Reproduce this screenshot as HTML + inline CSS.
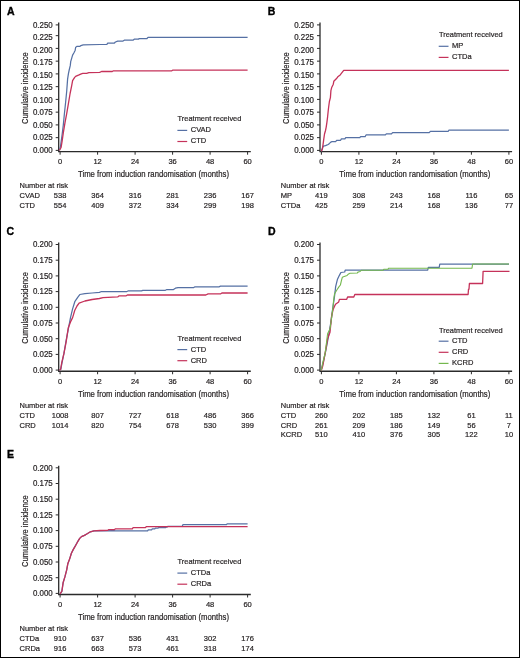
<!DOCTYPE html>
<html><head><meta charset="utf-8"><title>Cumulative incidence</title>
<style>
html,body{margin:0;padding:0;background:#fff;}
body{width:520px;height:658px;overflow:hidden;}
svg{display:block;will-change:transform;}
svg text{font-family:"Liberation Sans", sans-serif;fill:#231f20;stroke:#231f20;stroke-width:0.2px;}
</style></head>
<body>
<svg width="520" height="658" viewBox="0 0 520 658">
<rect x="0" y="0" width="520" height="658" fill="#fff"/>
<rect x="0.5" y="0.5" width="519" height="657" fill="none" stroke="#000" stroke-width="1"/>
<text x="7" y="14.6" font-size="10.5" font-weight="bold" style="fill:#000;stroke:#000;stroke-width:0.35px">A</text>
<path d="M58.7 22.6V151.7H250.8" fill="none" stroke="#2b2b2b" stroke-width="1.3"/>
<path d="M55.7 24.9H58.7" stroke="#2b2b2b" stroke-width="1"/>
<text x="52.7" y="27.85" font-size="8.2" text-anchor="end" textLength="19.8" lengthAdjust="spacingAndGlyphs">0.250</text>
<path d="M55.7 35.65H58.7" stroke="#2b2b2b" stroke-width="1"/>
<text x="52.7" y="40.36" font-size="8.2" text-anchor="end" textLength="19.8" lengthAdjust="spacingAndGlyphs">0.225</text>
<path d="M55.7 48.4H58.7" stroke="#2b2b2b" stroke-width="1"/>
<text x="52.7" y="52.87" font-size="8.2" text-anchor="end" textLength="19.8" lengthAdjust="spacingAndGlyphs">0.200</text>
<path d="M55.7 61.15H58.7" stroke="#2b2b2b" stroke-width="1"/>
<text x="52.7" y="65.38" font-size="8.2" text-anchor="end" textLength="19.8" lengthAdjust="spacingAndGlyphs">0.175</text>
<path d="M55.7 73.9H58.7" stroke="#2b2b2b" stroke-width="1"/>
<text x="52.7" y="77.89" font-size="8.2" text-anchor="end" textLength="19.8" lengthAdjust="spacingAndGlyphs">0.150</text>
<path d="M55.7 86.65H58.7" stroke="#2b2b2b" stroke-width="1"/>
<text x="52.7" y="90.4" font-size="8.2" text-anchor="end" textLength="19.8" lengthAdjust="spacingAndGlyphs">0.125</text>
<path d="M55.7 99.4H58.7" stroke="#2b2b2b" stroke-width="1"/>
<text x="52.7" y="102.91" font-size="8.2" text-anchor="end" textLength="19.8" lengthAdjust="spacingAndGlyphs">0.100</text>
<path d="M55.7 112.15H58.7" stroke="#2b2b2b" stroke-width="1"/>
<text x="52.7" y="115.42" font-size="8.2" text-anchor="end" textLength="19.8" lengthAdjust="spacingAndGlyphs">0.075</text>
<path d="M55.7 124.9H58.7" stroke="#2b2b2b" stroke-width="1"/>
<text x="52.7" y="127.93" font-size="8.2" text-anchor="end" textLength="19.8" lengthAdjust="spacingAndGlyphs">0.050</text>
<path d="M55.7 137.65H58.7" stroke="#2b2b2b" stroke-width="1"/>
<text x="52.7" y="140.44" font-size="8.2" text-anchor="end" textLength="19.8" lengthAdjust="spacingAndGlyphs">0.025</text>
<path d="M55.7 150.4H58.7" stroke="#2b2b2b" stroke-width="1"/>
<text x="52.7" y="152.95" font-size="8.2" text-anchor="end" textLength="19.8" lengthAdjust="spacingAndGlyphs">0.000</text>
<path d="M60.1 151.7v3" stroke="#2b2b2b" stroke-width="1"/>
<text x="60.1" y="164.4" font-size="8.1" text-anchor="middle" textLength="4.19" lengthAdjust="spacingAndGlyphs">0</text>
<path d="M97.6 151.7v3" stroke="#2b2b2b" stroke-width="1"/>
<text x="97.6" y="164.4" font-size="8.1" text-anchor="middle" textLength="8.38" lengthAdjust="spacingAndGlyphs">12</text>
<path d="M135.1 151.7v3" stroke="#2b2b2b" stroke-width="1"/>
<text x="135.1" y="164.4" font-size="8.1" text-anchor="middle" textLength="8.38" lengthAdjust="spacingAndGlyphs">24</text>
<path d="M172.6 151.7v3" stroke="#2b2b2b" stroke-width="1"/>
<text x="172.6" y="164.4" font-size="8.1" text-anchor="middle" textLength="8.38" lengthAdjust="spacingAndGlyphs">36</text>
<path d="M210.1 151.7v3" stroke="#2b2b2b" stroke-width="1"/>
<text x="210.1" y="164.4" font-size="8.1" text-anchor="middle" textLength="8.38" lengthAdjust="spacingAndGlyphs">48</text>
<path d="M247.6 151.7v3" stroke="#2b2b2b" stroke-width="1"/>
<text x="247.6" y="164.4" font-size="8.1" text-anchor="middle" textLength="8.38" lengthAdjust="spacingAndGlyphs">60</text>
<text x="78" y="177.4" font-size="8.8" textLength="151" lengthAdjust="spacingAndGlyphs">Time from induction randomisation (months)</text>
<text transform="translate(27.9 88.15) rotate(-90)" x="0" y="0" font-size="8.8" text-anchor="middle" textLength="71.5" lengthAdjust="spacingAndGlyphs">Cumulative incidence</text>
<text x="177.6" y="121.1" font-size="8.1" textLength="63.8" lengthAdjust="spacingAndGlyphs">Treatment received</text>
<path d="M177.4 130.4H187.2" stroke="#5570a4" stroke-width="1.2"/>
<text x="190.7" y="132.3" font-size="8.1" textLength="20.37" lengthAdjust="spacingAndGlyphs">CVAD</text>
<path d="M177.4 141.5H187.2" stroke="#c5325a" stroke-width="1.2"/>
<text x="190.7" y="143.4" font-size="8.1" textLength="15.48" lengthAdjust="spacingAndGlyphs">CTD</text>
<text x="19.5" y="188" font-size="8.1" textLength="48.5" lengthAdjust="spacingAndGlyphs">Number at risk</text>
<text x="19.5" y="198.3" font-size="8.1" textLength="20.37" lengthAdjust="spacingAndGlyphs">CVAD</text>
<text x="60.1" y="198.3" font-size="8.1" text-anchor="middle" textLength="12.57" lengthAdjust="spacingAndGlyphs">538</text>
<text x="97.6" y="198.3" font-size="8.1" text-anchor="middle" textLength="12.57" lengthAdjust="spacingAndGlyphs">364</text>
<text x="135.1" y="198.3" font-size="8.1" text-anchor="middle" textLength="12.57" lengthAdjust="spacingAndGlyphs">316</text>
<text x="172.6" y="198.3" font-size="8.1" text-anchor="middle" textLength="12.57" lengthAdjust="spacingAndGlyphs">281</text>
<text x="210.1" y="198.3" font-size="8.1" text-anchor="middle" textLength="12.57" lengthAdjust="spacingAndGlyphs">236</text>
<text x="247.6" y="198.3" font-size="8.1" text-anchor="middle" textLength="12.57" lengthAdjust="spacingAndGlyphs">167</text>
<text x="19.5" y="208" font-size="8.1" textLength="15.48" lengthAdjust="spacingAndGlyphs">CTD</text>
<text x="60.1" y="208" font-size="8.1" text-anchor="middle" textLength="12.57" lengthAdjust="spacingAndGlyphs">554</text>
<text x="97.6" y="208" font-size="8.1" text-anchor="middle" textLength="12.57" lengthAdjust="spacingAndGlyphs">409</text>
<text x="135.1" y="208" font-size="8.1" text-anchor="middle" textLength="12.57" lengthAdjust="spacingAndGlyphs">372</text>
<text x="172.6" y="208" font-size="8.1" text-anchor="middle" textLength="12.57" lengthAdjust="spacingAndGlyphs">334</text>
<text x="210.1" y="208" font-size="8.1" text-anchor="middle" textLength="12.57" lengthAdjust="spacingAndGlyphs">299</text>
<text x="247.6" y="208" font-size="8.1" text-anchor="middle" textLength="12.57" lengthAdjust="spacingAndGlyphs">198</text>
<polyline points="59.4,150.4 60.5,146.4 62.2,134 63.3,125 64.4,113.7 65.6,102.5 66.7,91.2 67.6,79.1 68.4,73.8 69.2,70 70.3,65.4 70.7,61.6 71.8,57.8 72.6,55.1 74.1,52.5 75.2,50.2 75.6,47.5 76.8,46.4 79.8,46.4 80.9,45.6 83.2,44.9 100,44.5 106.9,44.3 107.7,43.2 114.2,43.2 115.4,42 117.7,41.1 123,41.1 124.3,40.2 133,40.2 134.2,39.2 138.5,39.2 139.2,38.5 147,38.5 148,37.4 247.6,37.4" fill="none" stroke="#5570a4" stroke-width="1.25" stroke-linejoin="round"/>
<polyline points="59.4,150.4 61.1,147.5 62.2,140.7 63.3,132.9 65,122.7 66.7,113.7 68.4,103.6 70.1,93.5 71.7,85.6 72.6,80.6 74.5,77.6 75.6,76.4 79,74.9 81.3,73.8 82.8,73.4 86.6,73.4 88.9,72.6 99.7,72.3 101.5,71.5 112.3,71.5 113.5,70.8 171.8,70.8 172.6,70.2 247.6,70.2" fill="none" stroke="#c5325a" stroke-width="1.3" stroke-linejoin="round"/>
<text x="267.7" y="15.2" font-size="10.5" font-weight="bold" style="fill:#000;stroke:#000;stroke-width:0.35px">B</text>
<path d="M320 22.6V151.7H512.1" fill="none" stroke="#2b2b2b" stroke-width="1.3"/>
<path d="M317 24.9H320" stroke="#2b2b2b" stroke-width="1"/>
<text x="314" y="27.85" font-size="8.2" text-anchor="end" textLength="19.8" lengthAdjust="spacingAndGlyphs">0.250</text>
<path d="M317 35.65H320" stroke="#2b2b2b" stroke-width="1"/>
<text x="314" y="40.36" font-size="8.2" text-anchor="end" textLength="19.8" lengthAdjust="spacingAndGlyphs">0.225</text>
<path d="M317 48.4H320" stroke="#2b2b2b" stroke-width="1"/>
<text x="314" y="52.87" font-size="8.2" text-anchor="end" textLength="19.8" lengthAdjust="spacingAndGlyphs">0.200</text>
<path d="M317 61.15H320" stroke="#2b2b2b" stroke-width="1"/>
<text x="314" y="65.38" font-size="8.2" text-anchor="end" textLength="19.8" lengthAdjust="spacingAndGlyphs">0.175</text>
<path d="M317 73.9H320" stroke="#2b2b2b" stroke-width="1"/>
<text x="314" y="77.89" font-size="8.2" text-anchor="end" textLength="19.8" lengthAdjust="spacingAndGlyphs">0.150</text>
<path d="M317 86.65H320" stroke="#2b2b2b" stroke-width="1"/>
<text x="314" y="90.4" font-size="8.2" text-anchor="end" textLength="19.8" lengthAdjust="spacingAndGlyphs">0.125</text>
<path d="M317 99.4H320" stroke="#2b2b2b" stroke-width="1"/>
<text x="314" y="102.91" font-size="8.2" text-anchor="end" textLength="19.8" lengthAdjust="spacingAndGlyphs">0.100</text>
<path d="M317 112.15H320" stroke="#2b2b2b" stroke-width="1"/>
<text x="314" y="115.42" font-size="8.2" text-anchor="end" textLength="19.8" lengthAdjust="spacingAndGlyphs">0.075</text>
<path d="M317 124.9H320" stroke="#2b2b2b" stroke-width="1"/>
<text x="314" y="127.93" font-size="8.2" text-anchor="end" textLength="19.8" lengthAdjust="spacingAndGlyphs">0.050</text>
<path d="M317 137.65H320" stroke="#2b2b2b" stroke-width="1"/>
<text x="314" y="140.44" font-size="8.2" text-anchor="end" textLength="19.8" lengthAdjust="spacingAndGlyphs">0.025</text>
<path d="M317 150.4H320" stroke="#2b2b2b" stroke-width="1"/>
<text x="314" y="152.95" font-size="8.2" text-anchor="end" textLength="19.8" lengthAdjust="spacingAndGlyphs">0.000</text>
<path d="M321.4 151.7v3" stroke="#2b2b2b" stroke-width="1"/>
<text x="321.4" y="164.4" font-size="8.1" text-anchor="middle" textLength="4.19" lengthAdjust="spacingAndGlyphs">0</text>
<path d="M358.9 151.7v3" stroke="#2b2b2b" stroke-width="1"/>
<text x="358.9" y="164.4" font-size="8.1" text-anchor="middle" textLength="8.38" lengthAdjust="spacingAndGlyphs">12</text>
<path d="M396.4 151.7v3" stroke="#2b2b2b" stroke-width="1"/>
<text x="396.4" y="164.4" font-size="8.1" text-anchor="middle" textLength="8.38" lengthAdjust="spacingAndGlyphs">24</text>
<path d="M433.9 151.7v3" stroke="#2b2b2b" stroke-width="1"/>
<text x="433.9" y="164.4" font-size="8.1" text-anchor="middle" textLength="8.38" lengthAdjust="spacingAndGlyphs">36</text>
<path d="M471.4 151.7v3" stroke="#2b2b2b" stroke-width="1"/>
<text x="471.4" y="164.4" font-size="8.1" text-anchor="middle" textLength="8.38" lengthAdjust="spacingAndGlyphs">48</text>
<path d="M508.9 151.7v3" stroke="#2b2b2b" stroke-width="1"/>
<text x="508.9" y="164.4" font-size="8.1" text-anchor="middle" textLength="8.38" lengthAdjust="spacingAndGlyphs">60</text>
<text x="339.3" y="177.4" font-size="8.8" textLength="151" lengthAdjust="spacingAndGlyphs">Time from induction randomisation (months)</text>
<text transform="translate(289.2 88.15) rotate(-90)" x="0" y="0" font-size="8.8" text-anchor="middle" textLength="71.5" lengthAdjust="spacingAndGlyphs">Cumulative incidence</text>
<text x="438.9" y="37.1" font-size="8.1" textLength="63.8" lengthAdjust="spacingAndGlyphs">Treatment received</text>
<path d="M438.7 46.3H448.5" stroke="#5570a4" stroke-width="1.2"/>
<text x="452" y="48.2" font-size="8.1" textLength="11.3" lengthAdjust="spacingAndGlyphs">MP</text>
<path d="M438.7 57.4H448.5" stroke="#c5325a" stroke-width="1.2"/>
<text x="452" y="59.3" font-size="8.1" textLength="19.67" lengthAdjust="spacingAndGlyphs">CTDa</text>
<text x="280.8" y="188" font-size="8.1" textLength="48.5" lengthAdjust="spacingAndGlyphs">Number at risk</text>
<text x="280.8" y="198.3" font-size="8.1" textLength="11.3" lengthAdjust="spacingAndGlyphs">MP</text>
<text x="321.4" y="198.3" font-size="8.1" text-anchor="middle" textLength="12.57" lengthAdjust="spacingAndGlyphs">419</text>
<text x="358.9" y="198.3" font-size="8.1" text-anchor="middle" textLength="12.57" lengthAdjust="spacingAndGlyphs">308</text>
<text x="396.4" y="198.3" font-size="8.1" text-anchor="middle" textLength="12.57" lengthAdjust="spacingAndGlyphs">243</text>
<text x="433.9" y="198.3" font-size="8.1" text-anchor="middle" textLength="12.57" lengthAdjust="spacingAndGlyphs">168</text>
<text x="471.4" y="198.3" font-size="8.1" text-anchor="middle" textLength="12.01" lengthAdjust="spacingAndGlyphs">116</text>
<text x="508.9" y="198.3" font-size="8.1" text-anchor="middle" textLength="8.38" lengthAdjust="spacingAndGlyphs">65</text>
<text x="280.8" y="208" font-size="8.1" textLength="19.67" lengthAdjust="spacingAndGlyphs">CTDa</text>
<text x="321.4" y="208" font-size="8.1" text-anchor="middle" textLength="12.57" lengthAdjust="spacingAndGlyphs">425</text>
<text x="358.9" y="208" font-size="8.1" text-anchor="middle" textLength="12.57" lengthAdjust="spacingAndGlyphs">259</text>
<text x="396.4" y="208" font-size="8.1" text-anchor="middle" textLength="12.57" lengthAdjust="spacingAndGlyphs">214</text>
<text x="433.9" y="208" font-size="8.1" text-anchor="middle" textLength="12.57" lengthAdjust="spacingAndGlyphs">168</text>
<text x="471.4" y="208" font-size="8.1" text-anchor="middle" textLength="12.57" lengthAdjust="spacingAndGlyphs">136</text>
<text x="508.9" y="208" font-size="8.1" text-anchor="middle" textLength="8.38" lengthAdjust="spacingAndGlyphs">77</text>
<polyline points="321.4,151.2 322.6,147.5 323.8,145.8 325.2,145.8 326.7,145.1 328.1,144.5 329.5,143.4 330.5,142.4 332,141.5 335.8,141.5 336.6,140.3 340.6,140.3 341.4,138.9 344.9,138.9 345.7,137.7 359.8,137.7 360.6,136.7 365.1,136.7 365.9,135.2 366.2,134.9 385.4,134.9 386.3,133.9 391.5,133.9 392.6,132.6 429.2,132.6 430.4,131.3 448.3,131.3 449,130 508.9,130" fill="none" stroke="#5570a4" stroke-width="1.25" stroke-linejoin="round"/>
<polyline points="321.4,151.2 322.5,148.4 323.1,144.2 323.8,138.8 324.5,134 325.5,130.5 326.2,127.1 326.9,122.3 327.6,116.8 328.3,110 328.6,107.5 329.4,101.5 330.4,97.6 330.9,90.7 331.8,87.2 333.3,84.2 333.8,81.3 336.3,78.8 337.8,76.8 340.2,74.9 343.7,70.4 508.9,70.4" fill="none" stroke="#c5325a" stroke-width="1.3" stroke-linejoin="round"/>
<text x="6.6" y="234.8" font-size="10.5" font-weight="bold" style="fill:#000;stroke:#000;stroke-width:0.35px">C</text>
<path d="M58.7 242.6V371.25H250.8" fill="none" stroke="#2b2b2b" stroke-width="1.3"/>
<path d="M55.7 244.5H58.7" stroke="#2b2b2b" stroke-width="1"/>
<text x="52.7" y="247.3" font-size="8.2" text-anchor="end" textLength="19.8" lengthAdjust="spacingAndGlyphs">0.200</text>
<path d="M55.7 260.2H58.7" stroke="#2b2b2b" stroke-width="1"/>
<text x="52.7" y="263" font-size="8.2" text-anchor="end" textLength="19.8" lengthAdjust="spacingAndGlyphs">0.175</text>
<path d="M55.7 275.9H58.7" stroke="#2b2b2b" stroke-width="1"/>
<text x="52.7" y="278.7" font-size="8.2" text-anchor="end" textLength="19.8" lengthAdjust="spacingAndGlyphs">0.150</text>
<path d="M55.7 291.6H58.7" stroke="#2b2b2b" stroke-width="1"/>
<text x="52.7" y="294.4" font-size="8.2" text-anchor="end" textLength="19.8" lengthAdjust="spacingAndGlyphs">0.125</text>
<path d="M55.7 307.3H58.7" stroke="#2b2b2b" stroke-width="1"/>
<text x="52.7" y="310.1" font-size="8.2" text-anchor="end" textLength="19.8" lengthAdjust="spacingAndGlyphs">0.100</text>
<path d="M55.7 323H58.7" stroke="#2b2b2b" stroke-width="1"/>
<text x="52.7" y="325.8" font-size="8.2" text-anchor="end" textLength="19.8" lengthAdjust="spacingAndGlyphs">0.075</text>
<path d="M55.7 338.7H58.7" stroke="#2b2b2b" stroke-width="1"/>
<text x="52.7" y="341.5" font-size="8.2" text-anchor="end" textLength="19.8" lengthAdjust="spacingAndGlyphs">0.050</text>
<path d="M55.7 354.4H58.7" stroke="#2b2b2b" stroke-width="1"/>
<text x="52.7" y="357.2" font-size="8.2" text-anchor="end" textLength="19.8" lengthAdjust="spacingAndGlyphs">0.025</text>
<path d="M55.7 370.1H58.7" stroke="#2b2b2b" stroke-width="1"/>
<text x="52.7" y="372.9" font-size="8.2" text-anchor="end" textLength="19.8" lengthAdjust="spacingAndGlyphs">0.000</text>
<path d="M60.1 371.25v3" stroke="#2b2b2b" stroke-width="1"/>
<text x="60.1" y="383.95" font-size="8.1" text-anchor="middle" textLength="4.19" lengthAdjust="spacingAndGlyphs">0</text>
<path d="M97.6 371.25v3" stroke="#2b2b2b" stroke-width="1"/>
<text x="97.6" y="383.95" font-size="8.1" text-anchor="middle" textLength="8.38" lengthAdjust="spacingAndGlyphs">12</text>
<path d="M135.1 371.25v3" stroke="#2b2b2b" stroke-width="1"/>
<text x="135.1" y="383.95" font-size="8.1" text-anchor="middle" textLength="8.38" lengthAdjust="spacingAndGlyphs">24</text>
<path d="M172.6 371.25v3" stroke="#2b2b2b" stroke-width="1"/>
<text x="172.6" y="383.95" font-size="8.1" text-anchor="middle" textLength="8.38" lengthAdjust="spacingAndGlyphs">36</text>
<path d="M210.1 371.25v3" stroke="#2b2b2b" stroke-width="1"/>
<text x="210.1" y="383.95" font-size="8.1" text-anchor="middle" textLength="8.38" lengthAdjust="spacingAndGlyphs">48</text>
<path d="M247.6 371.25v3" stroke="#2b2b2b" stroke-width="1"/>
<text x="247.6" y="383.95" font-size="8.1" text-anchor="middle" textLength="8.38" lengthAdjust="spacingAndGlyphs">60</text>
<text x="78" y="396.95" font-size="8.8" textLength="151" lengthAdjust="spacingAndGlyphs">Time from induction randomisation (months)</text>
<text transform="translate(27.9 307.93) rotate(-90)" x="0" y="0" font-size="8.8" text-anchor="middle" textLength="71.5" lengthAdjust="spacingAndGlyphs">Cumulative incidence</text>
<text x="177.6" y="340.7" font-size="8.1" textLength="63.8" lengthAdjust="spacingAndGlyphs">Treatment received</text>
<path d="M177.4 349.6H187.2" stroke="#5570a4" stroke-width="1.2"/>
<text x="190.7" y="351.5" font-size="8.1" textLength="15.48" lengthAdjust="spacingAndGlyphs">CTD</text>
<path d="M177.4 360.7H187.2" stroke="#c5325a" stroke-width="1.2"/>
<text x="190.7" y="362.6" font-size="8.1" textLength="16.32" lengthAdjust="spacingAndGlyphs">CRD</text>
<text x="19.5" y="407.55" font-size="8.1" textLength="48.5" lengthAdjust="spacingAndGlyphs">Number at risk</text>
<text x="19.5" y="417.85" font-size="8.1" textLength="15.48" lengthAdjust="spacingAndGlyphs">CTD</text>
<text x="60.1" y="417.85" font-size="8.1" text-anchor="middle" textLength="16.76" lengthAdjust="spacingAndGlyphs">1008</text>
<text x="97.6" y="417.85" font-size="8.1" text-anchor="middle" textLength="12.57" lengthAdjust="spacingAndGlyphs">807</text>
<text x="135.1" y="417.85" font-size="8.1" text-anchor="middle" textLength="12.57" lengthAdjust="spacingAndGlyphs">727</text>
<text x="172.6" y="417.85" font-size="8.1" text-anchor="middle" textLength="12.57" lengthAdjust="spacingAndGlyphs">618</text>
<text x="210.1" y="417.85" font-size="8.1" text-anchor="middle" textLength="12.57" lengthAdjust="spacingAndGlyphs">486</text>
<text x="247.6" y="417.85" font-size="8.1" text-anchor="middle" textLength="12.57" lengthAdjust="spacingAndGlyphs">366</text>
<text x="19.5" y="427.55" font-size="8.1" textLength="16.32" lengthAdjust="spacingAndGlyphs">CRD</text>
<text x="60.1" y="427.55" font-size="8.1" text-anchor="middle" textLength="16.76" lengthAdjust="spacingAndGlyphs">1014</text>
<text x="97.6" y="427.55" font-size="8.1" text-anchor="middle" textLength="12.57" lengthAdjust="spacingAndGlyphs">820</text>
<text x="135.1" y="427.55" font-size="8.1" text-anchor="middle" textLength="12.57" lengthAdjust="spacingAndGlyphs">754</text>
<text x="172.6" y="427.55" font-size="8.1" text-anchor="middle" textLength="12.57" lengthAdjust="spacingAndGlyphs">678</text>
<text x="210.1" y="427.55" font-size="8.1" text-anchor="middle" textLength="12.57" lengthAdjust="spacingAndGlyphs">530</text>
<text x="247.6" y="427.55" font-size="8.1" text-anchor="middle" textLength="12.57" lengthAdjust="spacingAndGlyphs">399</text>
<polyline points="59.4,370.2 60.8,369.3 61.8,363.8 63.9,353.7 66.1,340.7 68.3,329.1 70.5,317.6 72.6,308.9 74.8,301.7 77.7,297.3 79.8,294.5 84.9,293.7 92.1,293 99.4,292.3 101.5,291.5 126.9,291.5 128.5,290.8 141.5,290.8 142.8,290.3 165.4,290.3 166.9,289.5 173.5,289.5 175.4,288.2 178.1,287.6 193.8,287.6 195,286.8 219.3,286.8 220.4,286.1 247.6,286.1" fill="none" stroke="#5570a4" stroke-width="1.25" stroke-linejoin="round"/>
<polyline points="59.4,370.2 60.6,369.4 61.8,362.4 63.9,353.7 66.1,342.1 68.3,327.7 70.5,321.9 72.6,317.6 74.8,310.3 77,306 79.1,303.1 84.9,301 92.1,299.5 99.4,298.5 103,297.7 117.7,296.9 119.2,295.8 126.2,295.8 127.4,295 205.8,295 208.1,293.8 220.8,293.8 221.9,293 247.6,293" fill="none" stroke="#c5325a" stroke-width="1.3" stroke-linejoin="round"/>
<text x="268" y="234.8" font-size="10.5" font-weight="bold" style="fill:#000;stroke:#000;stroke-width:0.35px">D</text>
<path d="M320 242.6V371.25H512.1" fill="none" stroke="#2b2b2b" stroke-width="1.3"/>
<path d="M317 244.5H320" stroke="#2b2b2b" stroke-width="1"/>
<text x="314" y="247.3" font-size="8.2" text-anchor="end" textLength="19.8" lengthAdjust="spacingAndGlyphs">0.200</text>
<path d="M317 260.2H320" stroke="#2b2b2b" stroke-width="1"/>
<text x="314" y="263" font-size="8.2" text-anchor="end" textLength="19.8" lengthAdjust="spacingAndGlyphs">0.175</text>
<path d="M317 275.9H320" stroke="#2b2b2b" stroke-width="1"/>
<text x="314" y="278.7" font-size="8.2" text-anchor="end" textLength="19.8" lengthAdjust="spacingAndGlyphs">0.150</text>
<path d="M317 291.6H320" stroke="#2b2b2b" stroke-width="1"/>
<text x="314" y="294.4" font-size="8.2" text-anchor="end" textLength="19.8" lengthAdjust="spacingAndGlyphs">0.125</text>
<path d="M317 307.3H320" stroke="#2b2b2b" stroke-width="1"/>
<text x="314" y="310.1" font-size="8.2" text-anchor="end" textLength="19.8" lengthAdjust="spacingAndGlyphs">0.100</text>
<path d="M317 323H320" stroke="#2b2b2b" stroke-width="1"/>
<text x="314" y="325.8" font-size="8.2" text-anchor="end" textLength="19.8" lengthAdjust="spacingAndGlyphs">0.075</text>
<path d="M317 338.7H320" stroke="#2b2b2b" stroke-width="1"/>
<text x="314" y="341.5" font-size="8.2" text-anchor="end" textLength="19.8" lengthAdjust="spacingAndGlyphs">0.050</text>
<path d="M317 354.4H320" stroke="#2b2b2b" stroke-width="1"/>
<text x="314" y="357.2" font-size="8.2" text-anchor="end" textLength="19.8" lengthAdjust="spacingAndGlyphs">0.025</text>
<path d="M317 370.1H320" stroke="#2b2b2b" stroke-width="1"/>
<text x="314" y="372.9" font-size="8.2" text-anchor="end" textLength="19.8" lengthAdjust="spacingAndGlyphs">0.000</text>
<path d="M321.4 371.25v3" stroke="#2b2b2b" stroke-width="1"/>
<text x="321.4" y="383.95" font-size="8.1" text-anchor="middle" textLength="4.19" lengthAdjust="spacingAndGlyphs">0</text>
<path d="M358.9 371.25v3" stroke="#2b2b2b" stroke-width="1"/>
<text x="358.9" y="383.95" font-size="8.1" text-anchor="middle" textLength="8.38" lengthAdjust="spacingAndGlyphs">12</text>
<path d="M396.4 371.25v3" stroke="#2b2b2b" stroke-width="1"/>
<text x="396.4" y="383.95" font-size="8.1" text-anchor="middle" textLength="8.38" lengthAdjust="spacingAndGlyphs">24</text>
<path d="M433.9 371.25v3" stroke="#2b2b2b" stroke-width="1"/>
<text x="433.9" y="383.95" font-size="8.1" text-anchor="middle" textLength="8.38" lengthAdjust="spacingAndGlyphs">36</text>
<path d="M471.4 371.25v3" stroke="#2b2b2b" stroke-width="1"/>
<text x="471.4" y="383.95" font-size="8.1" text-anchor="middle" textLength="8.38" lengthAdjust="spacingAndGlyphs">48</text>
<path d="M508.9 371.25v3" stroke="#2b2b2b" stroke-width="1"/>
<text x="508.9" y="383.95" font-size="8.1" text-anchor="middle" textLength="8.38" lengthAdjust="spacingAndGlyphs">60</text>
<text x="339.3" y="396.95" font-size="8.8" textLength="151" lengthAdjust="spacingAndGlyphs">Time from induction randomisation (months)</text>
<text transform="translate(289.2 307.93) rotate(-90)" x="0" y="0" font-size="8.8" text-anchor="middle" textLength="71.5" lengthAdjust="spacingAndGlyphs">Cumulative incidence</text>
<text x="438.9" y="332.6" font-size="8.1" textLength="63.8" lengthAdjust="spacingAndGlyphs">Treatment received</text>
<path d="M438.7 341.2H448.5" stroke="#5570a4" stroke-width="1.2"/>
<text x="452" y="343.1" font-size="8.1" textLength="15.48" lengthAdjust="spacingAndGlyphs">CTD</text>
<path d="M438.7 352.3H448.5" stroke="#c5325a" stroke-width="1.2"/>
<text x="452" y="354.2" font-size="8.1" textLength="16.32" lengthAdjust="spacingAndGlyphs">CRD</text>
<path d="M438.7 363.4H448.5" stroke="#74b84e" stroke-width="1.2"/>
<text x="452" y="365.3" font-size="8.1" textLength="21.35" lengthAdjust="spacingAndGlyphs">KCRD</text>
<text x="280.8" y="407.55" font-size="8.1" textLength="48.5" lengthAdjust="spacingAndGlyphs">Number at risk</text>
<text x="280.8" y="417.85" font-size="8.1" textLength="15.48" lengthAdjust="spacingAndGlyphs">CTD</text>
<text x="321.4" y="417.85" font-size="8.1" text-anchor="middle" textLength="12.57" lengthAdjust="spacingAndGlyphs">260</text>
<text x="358.9" y="417.85" font-size="8.1" text-anchor="middle" textLength="12.57" lengthAdjust="spacingAndGlyphs">202</text>
<text x="396.4" y="417.85" font-size="8.1" text-anchor="middle" textLength="12.57" lengthAdjust="spacingAndGlyphs">185</text>
<text x="433.9" y="417.85" font-size="8.1" text-anchor="middle" textLength="12.57" lengthAdjust="spacingAndGlyphs">132</text>
<text x="471.4" y="417.85" font-size="8.1" text-anchor="middle" textLength="8.38" lengthAdjust="spacingAndGlyphs">61</text>
<text x="508.9" y="417.85" font-size="8.1" text-anchor="middle" textLength="7.82" lengthAdjust="spacingAndGlyphs">11</text>
<text x="280.8" y="427.55" font-size="8.1" textLength="16.32" lengthAdjust="spacingAndGlyphs">CRD</text>
<text x="321.4" y="427.55" font-size="8.1" text-anchor="middle" textLength="12.57" lengthAdjust="spacingAndGlyphs">261</text>
<text x="358.9" y="427.55" font-size="8.1" text-anchor="middle" textLength="12.57" lengthAdjust="spacingAndGlyphs">209</text>
<text x="396.4" y="427.55" font-size="8.1" text-anchor="middle" textLength="12.57" lengthAdjust="spacingAndGlyphs">186</text>
<text x="433.9" y="427.55" font-size="8.1" text-anchor="middle" textLength="12.57" lengthAdjust="spacingAndGlyphs">149</text>
<text x="471.4" y="427.55" font-size="8.1" text-anchor="middle" textLength="8.38" lengthAdjust="spacingAndGlyphs">56</text>
<text x="508.9" y="427.55" font-size="8.1" text-anchor="middle" textLength="4.19" lengthAdjust="spacingAndGlyphs">7</text>
<text x="280.8" y="437.25" font-size="8.1" textLength="21.35" lengthAdjust="spacingAndGlyphs">KCRD</text>
<text x="321.4" y="437.25" font-size="8.1" text-anchor="middle" textLength="12.57" lengthAdjust="spacingAndGlyphs">510</text>
<text x="358.9" y="437.25" font-size="8.1" text-anchor="middle" textLength="12.57" lengthAdjust="spacingAndGlyphs">410</text>
<text x="396.4" y="437.25" font-size="8.1" text-anchor="middle" textLength="12.57" lengthAdjust="spacingAndGlyphs">376</text>
<text x="433.9" y="437.25" font-size="8.1" text-anchor="middle" textLength="12.57" lengthAdjust="spacingAndGlyphs">305</text>
<text x="471.4" y="437.25" font-size="8.1" text-anchor="middle" textLength="12.57" lengthAdjust="spacingAndGlyphs">122</text>
<text x="508.9" y="437.25" font-size="8.1" text-anchor="middle" textLength="8.38" lengthAdjust="spacingAndGlyphs">10</text>
<polyline points="321.2,370.5 323.6,360.9 326,349.7 328.4,337 330.8,322.6 333.2,305.1 334.1,299.4 335.1,291.7 335.6,286.9 336.5,283.1 337.5,279.2 338.9,276.3 339.9,274.4 340.9,272.5 344.7,272 345.2,270.1 427.7,270.1 428.3,267.3 439.2,267.3 439.8,264 509,264" fill="none" stroke="#5570a4" stroke-width="1.25" stroke-linejoin="round"/>
<polyline points="321.2,370.5 322.8,365.7 325.2,352.9 327.6,338.6 330,332.2 331.6,316.3 333.2,309.1 335.5,304.3 338.7,301.9 339.4,299.4 346.6,299.4 347.6,297 353.8,297 354.8,294.5 468.1,294.5 468.5,289.2 469,289.2 469.4,283.5 482.6,283.5 483.1,271.4 509.5,271.4" fill="none" stroke="#c5325a" stroke-width="1.3" stroke-linejoin="round"/>
<polyline points="321.2,370.5 322.8,362.5 325.2,352.9 327.6,333.8 330,329 331.6,317.8 333.2,305.1 333.7,299.4 334.6,293.7 337,289.8 338.9,286.9 340.4,285 341.3,281.2 342.3,277.3 344.2,276.5 347.1,275.4 348.6,273.9 350,273.3 357.2,273 358.2,272 360.1,271.5 361.1,270.3 383,270.3 384,269.2 388,269.2 388.5,268.2 472,268.2 472.6,264 509,264" fill="none" stroke="#74b84e" stroke-width="1.1" stroke-linejoin="round"/>
<text x="7" y="458.2" font-size="10.5" font-weight="bold" style="fill:#000;stroke:#000;stroke-width:0.35px">E</text>
<path d="M58.7 465.8V594.5H250.8" fill="none" stroke="#2b2b2b" stroke-width="1.3"/>
<path d="M55.7 467.8H58.7" stroke="#2b2b2b" stroke-width="1"/>
<text x="52.7" y="470.6" font-size="8.2" text-anchor="end" textLength="19.8" lengthAdjust="spacingAndGlyphs">0.200</text>
<path d="M55.7 483.5H58.7" stroke="#2b2b2b" stroke-width="1"/>
<text x="52.7" y="486.3" font-size="8.2" text-anchor="end" textLength="19.8" lengthAdjust="spacingAndGlyphs">0.175</text>
<path d="M55.7 499.2H58.7" stroke="#2b2b2b" stroke-width="1"/>
<text x="52.7" y="502" font-size="8.2" text-anchor="end" textLength="19.8" lengthAdjust="spacingAndGlyphs">0.150</text>
<path d="M55.7 514.9H58.7" stroke="#2b2b2b" stroke-width="1"/>
<text x="52.7" y="517.7" font-size="8.2" text-anchor="end" textLength="19.8" lengthAdjust="spacingAndGlyphs">0.125</text>
<path d="M55.7 530.6H58.7" stroke="#2b2b2b" stroke-width="1"/>
<text x="52.7" y="533.4" font-size="8.2" text-anchor="end" textLength="19.8" lengthAdjust="spacingAndGlyphs">0.100</text>
<path d="M55.7 546.3H58.7" stroke="#2b2b2b" stroke-width="1"/>
<text x="52.7" y="549.1" font-size="8.2" text-anchor="end" textLength="19.8" lengthAdjust="spacingAndGlyphs">0.075</text>
<path d="M55.7 562H58.7" stroke="#2b2b2b" stroke-width="1"/>
<text x="52.7" y="564.8" font-size="8.2" text-anchor="end" textLength="19.8" lengthAdjust="spacingAndGlyphs">0.050</text>
<path d="M55.7 577.7H58.7" stroke="#2b2b2b" stroke-width="1"/>
<text x="52.7" y="580.5" font-size="8.2" text-anchor="end" textLength="19.8" lengthAdjust="spacingAndGlyphs">0.025</text>
<path d="M55.7 593.4H58.7" stroke="#2b2b2b" stroke-width="1"/>
<text x="52.7" y="596.2" font-size="8.2" text-anchor="end" textLength="19.8" lengthAdjust="spacingAndGlyphs">0.000</text>
<path d="M60.1 594.5v3" stroke="#2b2b2b" stroke-width="1"/>
<text x="60.1" y="607.2" font-size="8.1" text-anchor="middle" textLength="4.19" lengthAdjust="spacingAndGlyphs">0</text>
<path d="M97.6 594.5v3" stroke="#2b2b2b" stroke-width="1"/>
<text x="97.6" y="607.2" font-size="8.1" text-anchor="middle" textLength="8.38" lengthAdjust="spacingAndGlyphs">12</text>
<path d="M135.1 594.5v3" stroke="#2b2b2b" stroke-width="1"/>
<text x="135.1" y="607.2" font-size="8.1" text-anchor="middle" textLength="8.38" lengthAdjust="spacingAndGlyphs">24</text>
<path d="M172.6 594.5v3" stroke="#2b2b2b" stroke-width="1"/>
<text x="172.6" y="607.2" font-size="8.1" text-anchor="middle" textLength="8.38" lengthAdjust="spacingAndGlyphs">36</text>
<path d="M210.1 594.5v3" stroke="#2b2b2b" stroke-width="1"/>
<text x="210.1" y="607.2" font-size="8.1" text-anchor="middle" textLength="8.38" lengthAdjust="spacingAndGlyphs">48</text>
<path d="M247.6 594.5v3" stroke="#2b2b2b" stroke-width="1"/>
<text x="247.6" y="607.2" font-size="8.1" text-anchor="middle" textLength="8.38" lengthAdjust="spacingAndGlyphs">60</text>
<text x="78" y="620.2" font-size="8.8" textLength="151" lengthAdjust="spacingAndGlyphs">Time from induction randomisation (months)</text>
<text transform="translate(27.9 531.15) rotate(-90)" x="0" y="0" font-size="8.8" text-anchor="middle" textLength="71.5" lengthAdjust="spacingAndGlyphs">Cumulative incidence</text>
<text x="177.6" y="564.2" font-size="8.1" textLength="63.8" lengthAdjust="spacingAndGlyphs">Treatment received</text>
<path d="M177.4 573.1H187.2" stroke="#5570a4" stroke-width="1.2"/>
<text x="190.7" y="575" font-size="8.1" textLength="19.67" lengthAdjust="spacingAndGlyphs">CTDa</text>
<path d="M177.4 584.2H187.2" stroke="#c5325a" stroke-width="1.2"/>
<text x="190.7" y="586.1" font-size="8.1" textLength="20.51" lengthAdjust="spacingAndGlyphs">CRDa</text>
<text x="19.5" y="630.8" font-size="8.1" textLength="48.5" lengthAdjust="spacingAndGlyphs">Number at risk</text>
<text x="19.5" y="641.1" font-size="8.1" textLength="19.67" lengthAdjust="spacingAndGlyphs">CTDa</text>
<text x="60.1" y="641.1" font-size="8.1" text-anchor="middle" textLength="12.57" lengthAdjust="spacingAndGlyphs">910</text>
<text x="97.6" y="641.1" font-size="8.1" text-anchor="middle" textLength="12.57" lengthAdjust="spacingAndGlyphs">637</text>
<text x="135.1" y="641.1" font-size="8.1" text-anchor="middle" textLength="12.57" lengthAdjust="spacingAndGlyphs">536</text>
<text x="172.6" y="641.1" font-size="8.1" text-anchor="middle" textLength="12.57" lengthAdjust="spacingAndGlyphs">431</text>
<text x="210.1" y="641.1" font-size="8.1" text-anchor="middle" textLength="12.57" lengthAdjust="spacingAndGlyphs">302</text>
<text x="247.6" y="641.1" font-size="8.1" text-anchor="middle" textLength="12.57" lengthAdjust="spacingAndGlyphs">176</text>
<text x="19.5" y="650.8" font-size="8.1" textLength="20.51" lengthAdjust="spacingAndGlyphs">CRDa</text>
<text x="60.1" y="650.8" font-size="8.1" text-anchor="middle" textLength="12.57" lengthAdjust="spacingAndGlyphs">916</text>
<text x="97.6" y="650.8" font-size="8.1" text-anchor="middle" textLength="12.57" lengthAdjust="spacingAndGlyphs">663</text>
<text x="135.1" y="650.8" font-size="8.1" text-anchor="middle" textLength="12.57" lengthAdjust="spacingAndGlyphs">573</text>
<text x="172.6" y="650.8" font-size="8.1" text-anchor="middle" textLength="12.57" lengthAdjust="spacingAndGlyphs">461</text>
<text x="210.1" y="650.8" font-size="8.1" text-anchor="middle" textLength="12.57" lengthAdjust="spacingAndGlyphs">318</text>
<text x="247.6" y="650.8" font-size="8.1" text-anchor="middle" textLength="12.57" lengthAdjust="spacingAndGlyphs">174</text>
<polyline points="60.1,594 61.9,591.1 63.1,582.8 64.9,576.9 66.7,569.8 67.8,563.8 69.6,559.1 71.4,553.2 73.2,549.6 75,546.4 77.3,542.2 79.7,538.4 81.5,536.6 84.4,535.4 86.8,534 90.4,531.8 93.9,530.9 113.8,530.6 115.4,530.9 146.2,530.9 147.6,530.9 148.3,529.8 151.6,529.8 152.3,528.9 154.8,528.9 155.4,528.2 157.9,528.2 158.5,527.6 165.6,527.6 166.2,527 167.1,527 167.7,526.3 182.3,526.3 182.9,524.6 226.5,524.6 227.3,523.8 247.6,523.8" fill="none" stroke="#5570a4" stroke-width="1.25" stroke-linejoin="round"/>
<polyline points="60.1,594 61.9,591.1 63.1,582.8 64.9,576.9 66.7,569.8 67.8,563.8 69.6,559.1 71.4,553.2 73.2,549.6 75,546.7 77.3,542.5 79.7,538.4 81.5,536.6 84.4,535.4 86.8,534 90.4,531.8 93.9,530.9 100,530.5 107.7,530.4 108.5,529.6 114.6,529.6 115.4,528.8 132.3,528.8 133.1,527.6 145.4,527.6 146.2,526.7 247.6,526.7" fill="none" stroke="#c5325a" stroke-width="1.3" stroke-linejoin="round"/>
</svg>
</body></html>
